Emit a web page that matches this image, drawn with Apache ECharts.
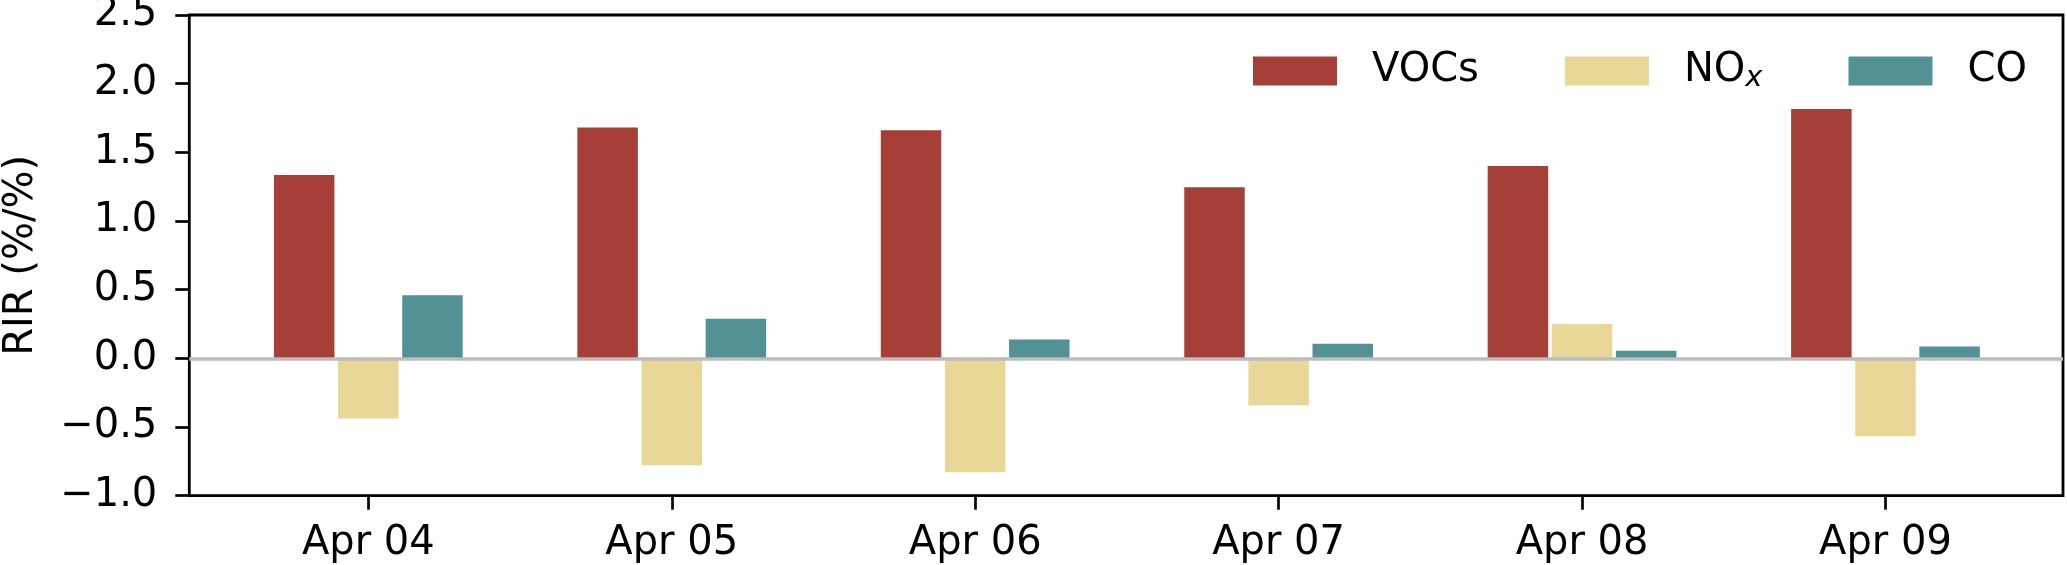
<!DOCTYPE html>
<html>
<head>
<meta charset="utf-8">
<script src="https://cdn.jsdelivr.net/npm/echarts@6/dist/echarts.min.js"></script>
<style>
  html, body { margin: 0; padding: 0; background: #fff; }
  #rirChart { width: 2067px; height: 565px; }
</style>
</head>
<body>
<div id="rirChart"></div>
<script>
// 日期
const dates = ['Apr 04', 'Apr 05', 'Apr 06', 'Apr 07', 'Apr 08', 'Apr 09']
// RIR (%/%)
const vocs = [1.335, 1.68, 1.66, 1.245, 1.40, 1.815]
const nox = [-0.437, -0.778, -0.830, -0.342, 0.250, -0.568]
const co = [0.459, 0.289, 0.138, 0.107, 0.056, 0.087]
const yTicks = { min: -1.0, max: 2.5, interval: 0.5 }

const font = 'DejaVu Sans'
const chartDom = document.getElementById('rirChart')
const myChart = echarts.init(chartDom)

// 坐标框和柱子的网格分开，让刻度居中但边框更宽
const frame = { left: 189.3, right: 4, top: 15, bottom: 69.3 }
const plot = { left: 216.6, right: 29.8, top: 15, bottom: 69.3 }

const barOption = {
  type: 'bar',
  xAxisIndex: 0,
  yAxisIndex: 0,
  barWidth: 60.5,
  barGap: '6%'
}

const option = {
  animation: false,
  textStyle: { fontFamily: font },
  grid: [
    {
      left: plot.left, right: plot.right, top: plot.top, bottom: plot.bottom,
      containLabel: false, outerBoundsMode: 'none'
    },
    {
      left: frame.left, right: frame.right, top: frame.top, bottom: frame.bottom,
      containLabel: false, outerBoundsMode: 'none',
      show: true, borderColor: '#000', borderWidth: 2.8, backgroundColor: 'transparent'
    }
  ],
  legend: {
    left: 1248,
    top: 46,
    itemWidth: 84,
    itemHeight: 29,
    itemGap: 86,
    icon: 'rect',
    data: ['VOCs', 'NOx', 'CO'],
    formatter: function(name) {
      return name === 'NOx' ? '{n|NO}{sub|x}' : '{n|' + name + '}'
    },
    textStyle: {
      fontFamily: font,
      fontSize: 40,
      color: '#000',
      padding: [0, 0, 0, 30],
      rich: {
        n: { fontFamily: font, fontSize: 40, color: '#000' },
        sub: { fontFamily: font, fontSize: 29, fontStyle: 'italic', color: '#000', padding: [14, 0, 0, 0] }
      }
    }
  },
  xAxis: [
    {
      type: 'category',
      gridIndex: 0,
      data: dates,
      axisLine: { show: false, onZero: false },
      axisTick: { show: true, alignWithLabel: true, length: 14, lineStyle: { color: '#000', width: 2.7 } },
      axisLabel: { fontFamily: font, fontSize: 40, color: '#000', margin: 28 },
      splitLine: { show: false }
    },
    { type: 'value', gridIndex: 1, min: 0, max: 1, show: false }
  ],
  yAxis: [
    {
      type: 'value',
      gridIndex: 0,
      min: yTicks.min,
      max: yTicks.max,
      interval: yTicks.interval,
      offset: plot.left - frame.left,
      name: 'RIR (%/%)',
      nameLocation: 'middle',
      nameGap: 148,
      nameTextStyle: { fontFamily: font, fontSize: 40, color: '#000' },
      axisLine: { show: false },
      axisTick: { show: true, length: 14, lineStyle: { color: '#000', width: 2.7 } },
      axisLabel: {
        fontFamily: font,
        fontSize: 40,
        color: '#000',
        margin: 32,
        formatter: function(v) { return v.toFixed(1).replace('-', '\u2212') }
      },
      splitLine: { show: false }
    },
    { type: 'value', gridIndex: 1, min: yTicks.min, max: yTicks.max, show: false }
  ],
  series: [
    Object.assign({ name: 'VOCs', data: vocs, itemStyle: { color: '#a63f37' } }, barOption),
    Object.assign({ name: 'NOx', data: nox, itemStyle: { color: '#e9d798' } }, barOption),
    Object.assign({ name: 'CO', data: co, itemStyle: { color: '#529295' } }, barOption),
    {
      // 零线
      type: 'line',
      xAxisIndex: 1,
      yAxisIndex: 1,
      data: [],
      z: 5,
      markLine: {
        silent: true,
        symbol: 'none',
        label: { show: false },
        lineStyle: { color: '#bdbdbd', width: 3.5, type: 'solid' },
        data: [{ yAxis: 0 }]
      }
    }
  ]
}
option && myChart.setOption(option)
</script>
</body>
</html>
